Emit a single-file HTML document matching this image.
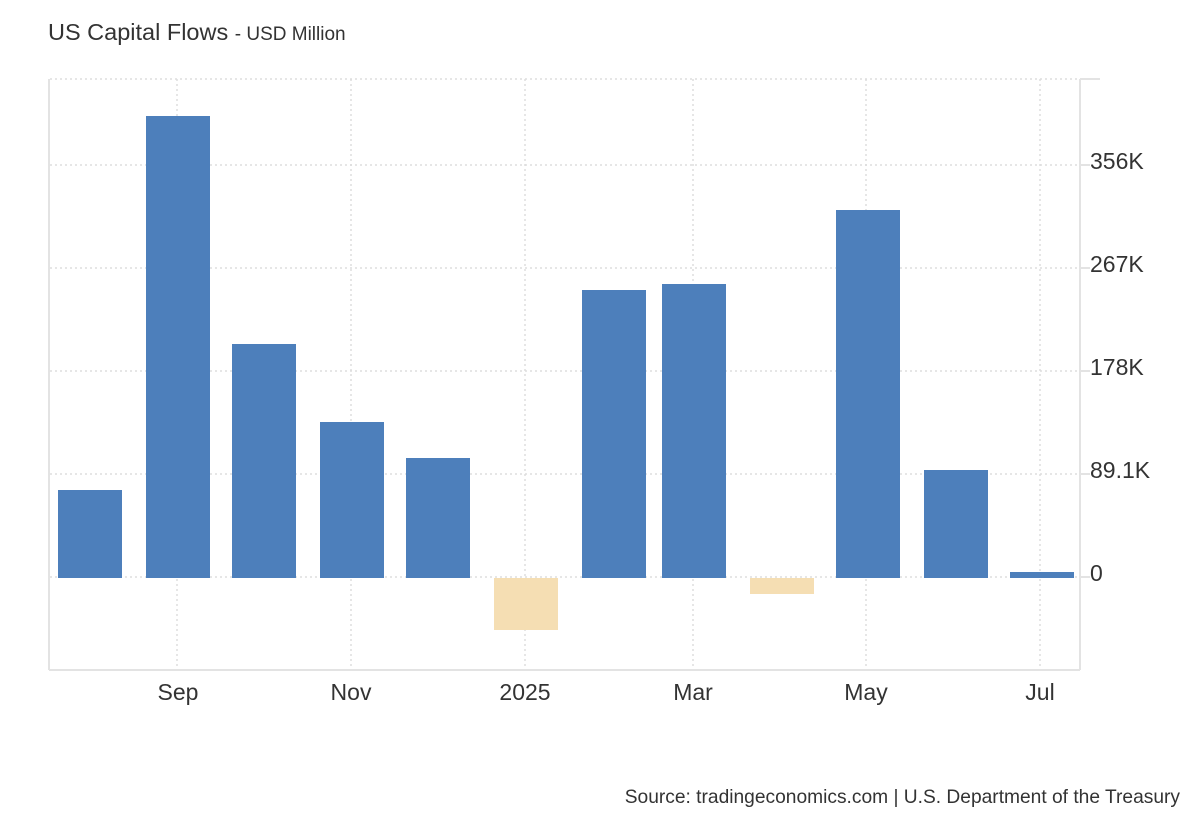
<!DOCTYPE html>
<html><head><meta charset="utf-8"><style>
body{margin:0;background:#fff;}
svg{display:block;font-family:"Liberation Sans",Arial,sans-serif;}
</style></head><body>
<svg width="1200" height="820" xmlns="http://www.w3.org/2000/svg">
<rect width="1200" height="820" fill="#fff"/>
<text x="48" y="40" font-size="23.5" fill="#333">US Capital Flows <tspan font-size="19">- USD Million</tspan></text>
<g stroke="#ddd" stroke-width="1.5" stroke-dasharray="2,3" fill="none">
<line x1="50" y1="79" x2="1080" y2="79"/>
<line x1="50" y1="165" x2="1080" y2="165"/>
<line x1="50" y1="268" x2="1080" y2="268"/>
<line x1="50" y1="371" x2="1080" y2="371"/>
<line x1="50" y1="474" x2="1080" y2="474"/>
<line x1="50" y1="577" x2="1080" y2="577"/>
<line x1="177" y1="79" x2="177" y2="670"/>
<line x1="351" y1="79" x2="351" y2="670"/>
<line x1="525" y1="79" x2="525" y2="670"/>
<line x1="693" y1="79" x2="693" y2="670"/>
<line x1="866" y1="79" x2="866" y2="670"/>
<line x1="1040" y1="79" x2="1040" y2="670"/>
</g>
<g stroke="#e3e3e3" stroke-width="2" fill="none">
<line x1="49" y1="79" x2="49" y2="670"/>
<line x1="49" y1="670" x2="1080" y2="670"/>
<line x1="1080" y1="79" x2="1080" y2="670"/>
<line x1="1080" y1="79" x2="1100" y2="79"/>
<line x1="1080" y1="165" x2="1090" y2="165"/>
<line x1="1080" y1="268" x2="1090" y2="268"/>
<line x1="1080" y1="371" x2="1090" y2="371"/>
<line x1="1080" y1="474" x2="1090" y2="474"/>
<line x1="1080" y1="577" x2="1090" y2="577"/>
</g>
<g fill="#4d7fbb">
<rect x="58" y="490" width="64" height="88"/>
<rect x="146" y="116" width="64" height="462"/>
<rect x="232" y="344" width="64" height="234"/>
<rect x="320" y="422" width="64" height="156"/>
<rect x="406" y="458" width="64" height="120"/>
<rect x="582" y="290" width="64" height="288"/>
<rect x="662" y="284" width="64" height="294"/>
<rect x="836" y="210" width="64" height="368"/>
<rect x="924" y="470" width="64" height="108"/>
<rect x="1010" y="572" width="64" height="6"/>
</g>
<g fill="#f5deb3">
<rect x="494" y="578" width="64" height="52"/>
<rect x="750" y="578" width="64" height="16"/>
</g>
<g font-size="23" fill="#333">
<text x="1090" y="169">356K</text>
<text x="1090" y="272">267K</text>
<text x="1090" y="375">178K</text>
<text x="1090" y="478">89.1K</text>
<text x="1090" y="581">0</text>
</g>
<g font-size="23" fill="#333" text-anchor="middle">
<text x="178" y="700">Sep</text>
<text x="351" y="700">Nov</text>
<text x="525" y="700">2025</text>
<text x="693" y="700">Mar</text>
<text x="866" y="700">May</text>
<text x="1040" y="700">Jul</text>
</g>
<text x="1180" y="803" font-size="19.2" fill="#333" text-anchor="end">Source: tradingeconomics.com | U.S. Department of the Treasury</text>
</svg>
</body></html>
